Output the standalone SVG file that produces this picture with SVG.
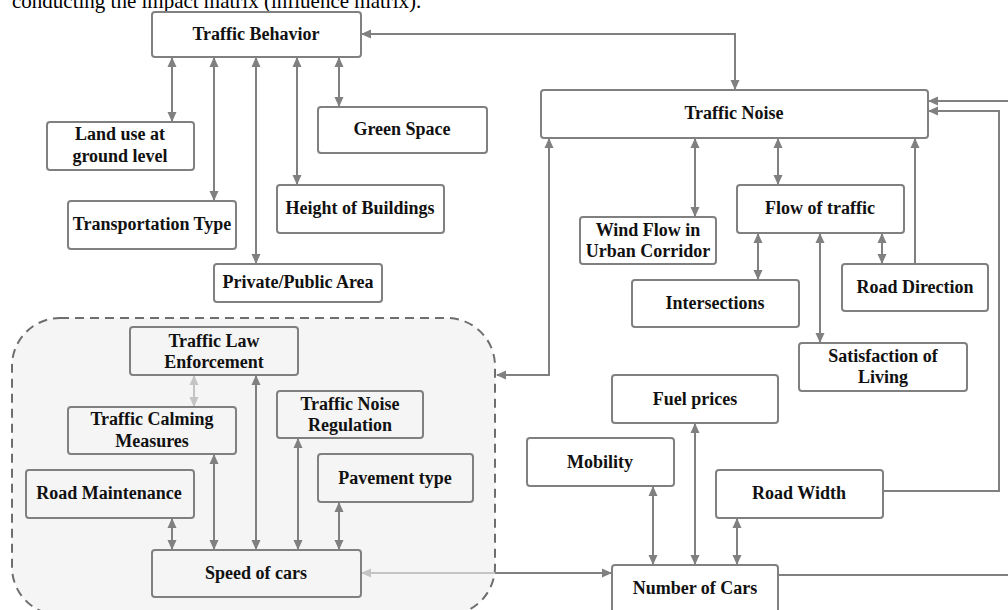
<svg xmlns="http://www.w3.org/2000/svg" width="1008" height="610" viewBox="0 0 1008 610">
<style>
.bx{fill:#ffffff;stroke:#808080;stroke-width:2}
.bi{fill:#f5f5f5;stroke:#808080;stroke-width:2}
.t{font-family:"Liberation Serif","Times New Roman",serif;font-weight:bold;font-size:18px;fill:#111;text-anchor:middle}
.c{fill:none;stroke:#808080;stroke-width:2}
.cl{fill:none;stroke:#c4c4c4;stroke-width:2}
.d{marker-start:url(#ah);marker-end:url(#ah)}
.e{marker-end:url(#ah)}
</style>
<defs>
<marker id="ah" viewBox="0 0 10 10" refX="9" refY="5" markerWidth="10" markerHeight="10" markerUnits="userSpaceOnUse" orient="auto-start-reverse"><path d="M0,0.5 L10,5 L0,9.5 z" fill="#808080"/></marker>
<marker id="al" viewBox="0 0 10 10" refX="9" refY="5" markerWidth="10" markerHeight="10" markerUnits="userSpaceOnUse" orient="auto-start-reverse"><path d="M0,0.5 L10,5 L0,9.5 z" fill="#c4c4c4"/></marker>
</defs>
<rect width="1008" height="610" fill="#ffffff"/>
<text x="12" y="8" style="font-family:'Liberation Serif','Times New Roman',serif;font-size:21px;fill:#000">conducting the impact matrix (influence matrix).</text>
<g id="group-speed">
<rect x="12" y="318" width="483" height="297" rx="48" fill="#f5f5f5" stroke="#6e6e6e" stroke-width="2" stroke-dasharray="9 6"/>
</g>
<g id="connectors">
<path class="c d" d="M172 58 V121"/>
<path class="c d" d="M214 58 V200"/>
<path class="c d" d="M256 58 V263"/>
<path class="c d" d="M297 58 V184"/>
<path class="c d" d="M339 58 V106"/>
<path class="c d" d="M362 34 H735 V89"/>
<path class="c d" d="M497 375 H549 V139"/>
<path class="c d" d="M695 139 V216"/>
<path class="c d" d="M778 139 V184"/>
<path class="c e" d="M915 264 V139"/>
<path class="c d" d="M758 234 V279"/>
<path class="c d" d="M820 234 V342"/>
<path class="c d" d="M882 234 V263"/>
<path class="c e" d="M779 575 H1015 V101 H929"/>
<path class="c e" d="M884 491 H999 V111 H929"/>
<path class="c d" d="M653 487 V564"/>
<path class="c d" d="M695 424 V564"/>
<path class="c d" d="M737 519 V564"/>
<path class="cl" style="marker-end:url(#al)" d="M495 573 H362"/>
<path class="c e" d="M495 573 H611"/>
<path class="cl" style="marker-start:url(#al);marker-end:url(#al)" d="M194 376 V406"/>
<path class="c d" d="M256 376 V549"/>
<path class="c d" d="M214 455 V549"/>
<path class="c d" d="M172 519 V549"/>
<path class="c d" d="M298 439 V549"/>
<path class="c d" d="M339 503 V549"/>
</g>
<g id="n-traffic-behavior"><rect class="bx" x="152" y="12" width="209" height="45" rx="3"/><text class="t" x="256" y="40">Traffic Behavior</text></g>
<g id="n-land-use"><rect class="bx" x="47" y="122" width="147" height="48" rx="3"/><text class="t" x="120" y="140">Land use at</text><text class="t" x="120" y="162">ground level</text></g>
<g id="n-transportation"><rect class="bx" x="68" y="201" width="168" height="48" rx="3"/><text class="t" x="152" y="230">Transportation Type</text></g>
<g id="n-private-public"><rect class="bx" x="214" y="264" width="168" height="38" rx="3"/><text class="t" x="298" y="288">Private/Public Area</text></g>
<g id="n-height"><rect class="bx" x="277" y="185" width="167" height="48" rx="3"/><text class="t" x="360" y="214">Height of Buildings</text></g>
<g id="n-green"><rect class="bx" x="318" y="107" width="169" height="46" rx="3"/><text class="t" x="402" y="135">Green Space</text></g>
<g id="n-traffic-noise"><rect class="bx" x="541" y="90" width="387" height="48" rx="3"/><text class="t" x="734" y="119">Traffic Noise</text></g>
<g id="n-wind"><rect class="bx" x="580" y="217" width="136" height="47" rx="3"/><text class="t" x="648" y="236">Wind Flow in</text><text class="t" x="648" y="257">Urban Corridor</text></g>
<g id="n-flow"><rect class="bx" x="737" y="185" width="167" height="48" rx="3"/><text class="t" x="820" y="214">Flow of traffic</text></g>
<g id="n-intersections"><rect class="bx" x="632" y="280" width="167" height="47" rx="3"/><text class="t" x="715" y="309">Intersections</text></g>
<g id="n-road-direction"><rect class="bx" x="842" y="264" width="146" height="47" rx="3"/><text class="t" x="915" y="293">Road Direction</text></g>
<g id="n-satisfaction"><rect class="bx" x="799" y="343" width="168" height="48" rx="3"/><text class="t" x="883" y="362">Satisfaction of</text><text class="t" x="883" y="383">Living</text></g>
<g id="n-fuel"><rect class="bx" x="612" y="375" width="166" height="48" rx="3"/><text class="t" x="695" y="405">Fuel prices</text></g>
<g id="n-mobility"><rect class="bx" x="527" y="438" width="147" height="48" rx="3"/><text class="t" x="600" y="468">Mobility</text></g>
<g id="n-road-width"><rect class="bx" x="716" y="470" width="167" height="48" rx="3"/><text class="t" x="799" y="499">Road Width</text></g>
<g id="n-number-cars"><rect class="bx" x="612" y="565" width="166" height="55" rx="3"/><text class="t" x="695" y="594">Number of Cars</text></g>
<g id="n-law"><rect class="bi" x="130" y="327" width="168" height="48" rx="3"/><text class="t" x="214" y="347">Traffic Law</text><text class="t" x="214" y="368">Enforcement</text></g>
<g id="n-calming"><rect class="bi" x="68" y="407" width="168" height="47" rx="3"/><text class="t" x="152" y="425">Traffic Calming</text><text class="t" x="152" y="447">Measures</text></g>
<g id="n-noise-reg"><rect class="bi" x="277" y="391" width="146" height="47" rx="3"/><text class="t" x="350" y="410">Traffic Noise</text><text class="t" x="350" y="431">Regulation</text></g>
<g id="n-pavement"><rect class="bi" x="318" y="454" width="155" height="48" rx="3"/><text class="t" x="395" y="484">Pavement type</text></g>
<g id="n-road-maint"><rect class="bi" x="26" y="470" width="168" height="48" rx="3"/><text class="t" x="109" y="499">Road Maintenance</text></g>
<g id="n-speed"><rect class="bi" x="152" y="550" width="209" height="47" rx="3"/><text class="t" x="256" y="579">Speed of cars</text></g>
</svg>
